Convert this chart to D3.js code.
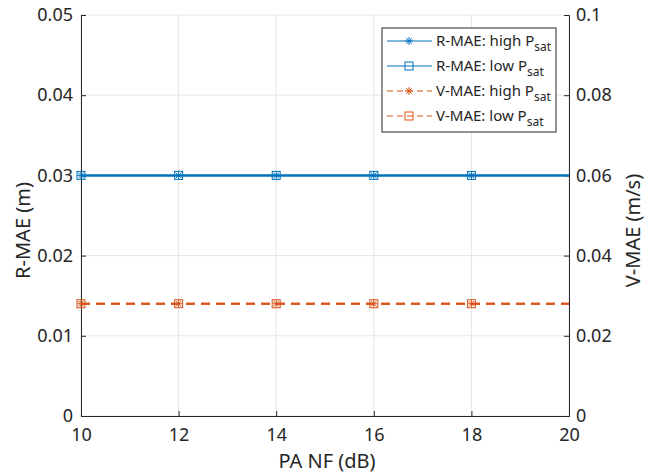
<!DOCTYPE html>
<html>
<head>
  <meta charset="utf-8">
  <title>R-MAE / V-MAE vs PA NF</title>
  <script src="https://d3js.org/d3.v7.min.js"></script>
  <style>
    body { margin: 0; background: #fff; }
    text { font-family: "Noto Sans", "DejaVu Sans", sans-serif; fill: #262626; }
  </style>
</head>
<body>
  <svg id="chart"></svg>
  <script>
    const svg_width = 652;
    const svg_height = 474;

    // data
    var nf = [10, 12, 14, 16, 18, 20];
    var markerNF = [10, 12, 14, 16, 18];
    var rmaeHigh = [0.03, 0.03, 0.03, 0.03, 0.03, 0.03];
    var rmaeLow = [0.03, 0.03, 0.03, 0.03, 0.03, 0.03];
    var vmaeHigh = [0.028, 0.028, 0.028, 0.028, 0.028, 0.028];
    var vmaeLow = [0.028, 0.028, 0.028, 0.028, 0.028, 0.028];

    var xTicks = [10, 12, 14, 16, 18, 20];
    var yLeftTicks = [0, 0.01, 0.02, 0.03, 0.04, 0.05];
    var yRightTicks = [0, 0.02, 0.04, 0.06, 0.08, 0.1];

    var margin = { top: 15, right: 83, bottom: 58, left: 81 };
    var width = svg_width - margin.left - margin.right;
    var height = svg_height - margin.top - margin.bottom;

    var blue = "#0072BD";
    var orange = "#D95319";

    var x = d3.scaleLinear().domain([10, 20]).range([0, width]);
    var yL = d3.scaleLinear().domain([0, 0.05]).range([height, 0]);
    var yR = d3.scaleLinear().domain([0, 0.1]).range([height, 0]);

    var svg = d3.select("#chart")
      .attr("width", svg_width)
      .attr("height", svg_height)
      .append("g")
      .attr("transform", "translate(" + margin.left + "," + margin.top + ")");

    // grid
    svg.selectAll(".gx").data(xTicks).enter().append("line")
      .attr("x1", d => x(d)).attr("x2", d => x(d))
      .attr("y1", 0).attr("y2", height)
      .attr("stroke", "#e6e6e6").attr("stroke-width", 1);
    svg.selectAll(".gy").data(yLeftTicks).enter().append("line")
      .attr("x1", 0).attr("x2", width)
      .attr("y1", d => yL(d)).attr("y2", d => yL(d))
      .attr("stroke", "#e6e6e6").attr("stroke-width", 1);

    // axes
    var xAxis = d3.axisBottom(x).tickValues(xTicks).tickSize(-5).tickPadding(12).tickFormat(d3.format("d"));
    var yAxisL = d3.axisLeft(yL).tickValues(yLeftTicks).tickSize(-5).tickPadding(8).tickFormat(d => d === 0 ? "0" : d3.format(".2f")(d));
    var yAxisR = d3.axisRight(yR).tickValues(yRightTicks).tickSize(-5).tickPadding(7).tickFormat(d => d === 0 ? "0" : (d === 0.1 ? "0.1" : d3.format(".2f")(d)));

    function styleAxis(g) {
      g.select(".domain").attr("stroke", "#262626").attr("stroke-width", 1);
      g.selectAll(".tick line").attr("stroke", "#262626");
      g.selectAll(".tick text").style("font-size", "18px").attr("fill", "#262626");
    }

    svg.append("g").attr("transform", "translate(0," + height + ")").call(xAxis).call(styleAxis);
    svg.append("g").call(yAxisL).call(styleAxis);
    svg.append("g").attr("transform", "translate(" + width + ",0)").call(yAxisR).call(styleAxis);

    // axis labels
    svg.append("text")
      .attr("x", width / 2 + 2).attr("y", height + 52)
      .attr("text-anchor", "middle").style("font-size", "20px")
      .text("PA NF (dB)");
    svg.append("text")
      .attr("transform", "translate(" + (-51) + "," + (height / 2 + 15) + ") rotate(-90)")
      .attr("text-anchor", "middle").style("font-size", "20px")
      .text("R-MAE (m)");
    svg.append("text")
      .attr("transform", "translate(" + (width + 71) + "," + (height / 2 + 15) + ") rotate(-90)")
      .attr("text-anchor", "middle").style("font-size", "20px")
      .text("V-MAE (m/s)");

    var series = [
      { name: "R-MAE: high ", vals: rmaeHigh, y: yL, color: blue, dash: null, marker: "star" },
      { name: "R-MAE: low ", vals: rmaeLow, y: yL, color: blue, dash: null, marker: "square" },
      { name: "V-MAE: high ", vals: vmaeHigh, y: yR, color: orange, dash: "9,6", marker: "star" },
      { name: "V-MAE: low ", vals: vmaeLow, y: yR, color: orange, dash: "9,6", marker: "square" }
    ];

    function drawMarker(g, type, color, cx, cy) {
      if (type === "square") {
        g.append("rect")
          .attr("x", cx - 4).attr("y", cy - 4)
          .attr("width", 8).attr("height", 8)
          .attr("fill", "none").attr("stroke", color).attr("stroke-width", 1);
      } else {
        var r = 4;
        var p = "M" + (cx - r) + "," + cy + "H" + (cx + r) +
          "M" + cx + "," + (cy - r) + "V" + (cy + r) +
          "M" + (cx - r * 0.7) + "," + (cy - r * 0.7) + "L" + (cx + r * 0.7) + "," + (cy + r * 0.7) +
          "M" + (cx - r * 0.7) + "," + (cy + r * 0.7) + "L" + (cx + r * 0.7) + "," + (cy - r * 0.7);
        g.append("path").attr("d", p).attr("fill", "none").attr("stroke", color).attr("stroke-width", 1);
      }
    }

    var plot = svg.append("g");
    series.forEach(function(s) {
      var line = d3.line()
        .x((d, i) => x(nf[i]))
        .y(d => s.y(d));
      plot.append("path")
        .datum(s.vals)
        .attr("d", line)
        .attr("fill", "none")
        .attr("stroke", s.color)
        .attr("stroke-width", 2)
        .attr("stroke-dasharray", s.dash);
      markerNF.forEach(function(v) {
        var i = nf.indexOf(v);
        drawMarker(plot, s.marker, s.color, x(v), s.y(s.vals[i]));
      });
    });

    // legend
    var lg = svg.append("g").attr("transform", "translate(" + (382 - margin.left) + "," + (28 - margin.top) + ")");
    lg.append("rect")
      .attr("width", 174).attr("height", 104)
      .attr("fill", "#fff").attr("stroke", "#262626").attr("stroke-width", 1);
    series.forEach(function(s, i) {
      var cy = 13 + i * 25;
      lg.append("line")
        .attr("x1", 5).attr("x2", 50).attr("y1", cy).attr("y2", cy)
        .attr("stroke", s.color).attr("stroke-width", 1)
        .attr("stroke-dasharray", s.dash ? "6,4" : null);
      drawMarker(lg, s.marker, s.color, 27, cy);
      var t = lg.append("text")
        .attr("x", 54).attr("y", cy + 5)
        .style("font-size", "15px");
      t.append("tspan").text(s.name + "P");
      t.append("tspan").attr("dy", 5).style("font-size", "12px").text("sat");
    });
  </script>
</body>
</html>
